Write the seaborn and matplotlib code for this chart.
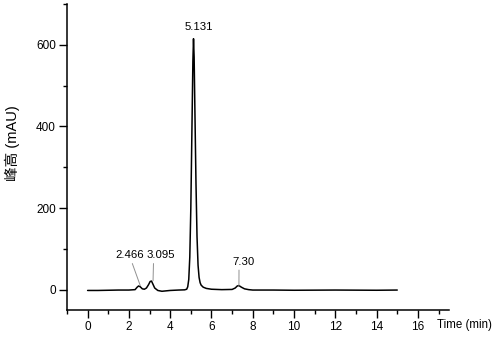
import matplotlib
matplotlib.use("Agg")
import seaborn as sns
import matplotlib.pyplot as plt
from matplotlib.ticker import MultipleLocator

# Chromatogram
time_min = [0, 0.5, 1.0, 1.5, 2.0, 2.3, 2.4, 2.47, 2.55, 2.65, 2.75, 2.85, 2.95, 3.03,
            3.095, 3.15, 3.25, 3.4, 3.6, 3.8, 4.0, 4.4, 4.7, 4.8, 4.85, 4.9, 4.95, 5.0,
            5.05, 5.1, 5.13, 5.16, 5.2, 5.25, 5.3, 5.35, 5.4, 5.45, 5.5, 5.6, 5.75, 6.0,
            6.5, 7.0, 7.15, 7.25, 7.33, 7.45, 7.6, 7.8, 8.0, 9.0, 10.0, 12.0, 14.0, 15.0]
signal_mau = [-2, -2, -1.5, -1, -1, 0, 6, 9, 7, 2, 1, 4, 12, 20,
              21, 15, 4, -2, -4, -3, -2, -1, -0.5, 1, 7, 25, 80, 200,
              380, 560, 615, 570, 430, 260, 130, 60, 30, 17, 11, 6, 3, 1,
              0, 0.5, 4, 9, 10, 6, 2, 0, -1, -1, -1.5, -1, -1.5, -1]

peak_labels = ["2.466", "3.095", "5.131", "7.30"]
peak_times = [2.55, 3.17, 5.13, 7.33]
peak_heights = [10, 22, 615, 10]

sns.set_style("ticks", {"text.color": "black", "axes.labelcolor": "black",
                        "xtick.color": "black", "ytick.color": "black",
                        "axes.edgecolor": "black"})
plt.rcParams['font.family'] = ['Liberation Sans', 'Noto Sans CJK SC', 'DejaVu Sans']

fig = plt.figure(figsize=(4.96, 3.37), dpi=100)
ax = fig.add_axes([0.135, 0.08, 0.77, 0.908])

sns.lineplot(x=time_min, y=signal_mau, color="black", linewidth=1.1, ax=ax)

# label positions (time, value) for each peak's text
text_pos = [(2.04, 72), (3.54, 72), (5.41, 632), (7.55, 56)]
rel = {"2.466": 0.55, "3.095": 0.25, "7.30": 0.3}
for lab, t, h, (tx, ty) in zip(peak_labels, peak_times, peak_heights, text_pos):
    if lab == "5.131":
        ax.text(tx, ty, lab, ha="center", va="bottom", fontsize=8.2)
        continue
    ax.annotate(lab, xy=(t, h), xytext=(tx, ty), ha="center", va="bottom",
                fontsize=8.2,
                arrowprops=dict(arrowstyle="-", color="#909090", lw=0.7,
                                shrinkA=0, shrinkB=0, relpos=(rel[lab], 0)))

ax.set_xlim(-1, 17.5)
ax.set_ylim(-50, 700)
ax.xaxis.set_major_locator(MultipleLocator(2))
ax.xaxis.set_minor_locator(MultipleLocator(1))
ax.yaxis.set_major_locator(MultipleLocator(200))
ax.yaxis.set_minor_locator(MultipleLocator(100))
ax.tick_params(which="major", length=5.5, width=1, labelsize=8.5, direction="out", pad=2.5)
ax.tick_params(which="minor", length=3, width=1, direction="out")
for s in ["left", "bottom"]:
    ax.spines[s].set_linewidth(1.1)
sns.despine(ax=ax)

ax.set_ylabel("峰高 (mAU)", fontsize=10.5, family=['Liberation Sans', 'Noto Sans CJK SC', 'DejaVu Sans'])
ax.yaxis.set_label_coords(-0.124, 0.545)
ax.set_xlabel("")
fig.text(0.937, 0.036, "Time (min)", ha="center", va="center", fontsize=8.3)

fig.savefig("out.png", dpi=100, facecolor="white")
